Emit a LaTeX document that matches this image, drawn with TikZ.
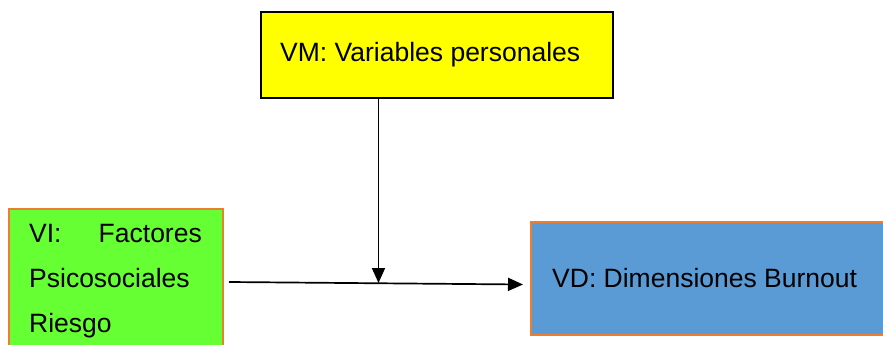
\documentclass[tikz,border=0pt]{standalone}
\usepackage{fontspec}
\setmainfont{Liberation Sans}
\usetikzlibrary{arrows.meta}
\definecolor{boxyellow}{HTML}{FFFF00}
\definecolor{boxgreen}{HTML}{66FF33}
\definecolor{boxblue}{HTML}{5B9BD5}
\definecolor{boxedge}{HTML}{ED7D31}
\begin{document}
\begin{tikzpicture}[x=1pt,y=-1pt,
  varbox/.style={rectangle,inner sep=0pt,anchor=north west},
  lbl/.style={inner sep=0pt,font=\fontsize{26.5pt}{32pt}\selectfont},
  link/.style={line width=1.7pt,-{Triangle[length=15pt,width=13pt]}}]
\useasboundingbox (0,0) rectangle (883,345);
\clip (0,0) rectangle (883,345);
\fill[white] (0,0) rectangle (883,345);
% moderating variable
\node[varbox,draw=black,line width=1.6pt,fill=boxyellow,
      minimum width=352pt,minimum height=86pt] (vm) at (260,11) {};
\node[lbl,anchor=base west] (vmt) at (280,62) {VM: Variables personales};
% independent variable
\node[varbox,draw=boxedge,line width=2.4pt,fill=boxgreen,
      minimum width=214pt,minimum height=170pt] (vi) at (8,208) {};
\node[lbl,anchor=base west] (via) at (29,242) {VI:};
\node[lbl,anchor=base east] (vib) at (202,242) {Factores};
\node[lbl,anchor=base west] (vic) at (29,287) {Psicosociales};
\node[lbl,anchor=base west] (vid) at (29,332) {Riesgo};
% dependent variable
\node[varbox,draw=boxedge,line width=2.4pt,fill=boxblue,
      minimum width=380pt,minimum height=113pt] (vd) at (530,221) {};
\node[lbl,anchor=base west] (vdt) at (552,287) {VD: Dimensiones Burnout};
% connectors
\coordinate (src) at (229,282);
\coordinate (dst) at (523,284.5);
\coordinate (mid) at (378.5,283);
\draw[link] (src) -- (dst);
\draw[link] (vm.south -| mid) -- (mid);
\end{tikzpicture}
\end{document}
